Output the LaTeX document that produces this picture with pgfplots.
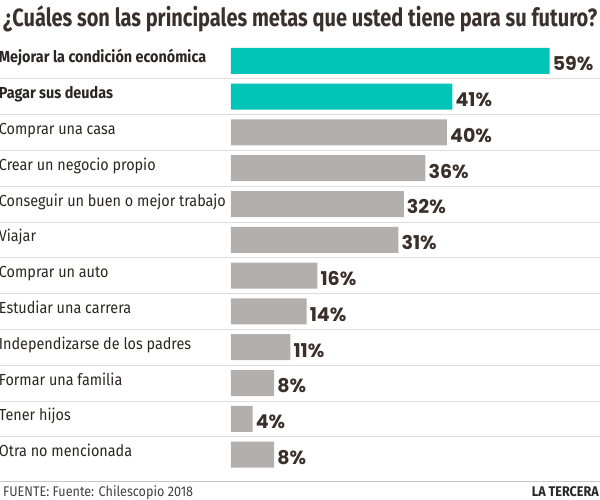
\documentclass[border=0pt]{standalone}
\usepackage{pgfplots}
\pgfplotsset{compat=1.18}
\usepackage{fontspec}
\setmainfont{Fira Sans}
\newfontfamily\labfont{Fira Sans}[FakeStretch=0.9]
\newfontfamily\titlefont{Fira Sans}
\newfontfamily\pctfont{Poppins}
\definecolor{tealbar}{HTML}{00C4B8}
\definecolor{graybar}{HTML}{B3AFAD}
\definecolor{txt}{HTML}{2B2523}
\definecolor{ttl}{HTML}{3A312D}
\definecolor{pct}{HTML}{3B2F2A}
\definecolor{sep}{HTML}{DEDEDE}
\begin{document}
\begin{tikzpicture}
\useasboundingbox (0pt,0pt) rectangle (600pt,499pt);
\foreach \i in {0,...,10} {
  \pgfmathsetmacro{\yy}{499-(60.8+35.8*(\i+0.5))}
  \draw[sep, line width=0.8pt] (0pt,\yy pt) -- (600pt,\yy pt);
}
\draw[black!22, line width=1pt] (0pt,18pt) -- (600pt,18pt);
\node[anchor=base west, inner sep=0pt, text=ttl] at (3pt,472pt)
  {\resizebox{594pt}{\height}{\titlefont\bfseries\fontsize{25}{25}\selectfont ¿Cuáles son las principales metas que usted tiene para su futuro?}};
\node[anchor=base west, inner sep=0pt, text=black!75] at (3pt,3pt)
  {\labfont\fontsize{14}{14}\selectfont FUENTE: Fuente: Chilescopio 2018};
\node[anchor=base east, inner sep=0pt, text=black!85] at (599pt,2.5pt)
  {\labfont\bfseries\fontsize{14}{14}\selectfont LA TERCERA};
\begin{axis}[
  at={(231pt,456.1pt)}, anchor=north west,
  scale only axis, width=367.2pt, height=429.6pt,
  xmin=0, xmax=68, ymin=-0.5, ymax=11.5,
  y dir=reverse,
  xbar, bar width=26pt,
  axis line style={draw=none},
  tick style={draw=none},
  xtick=\empty,
  ytick={0,...,11},
  yticklabels={\bfseries Mejorar la condición económica, \bfseries Pagar sus deudas, Comprar una casa, Crear un negocio propio, Conseguir un buen o mejor trabajo, Viajar, Comprar un auto, Estudiar una carrera, Independizarse de los padres, Formar una familia, Tener hijos, Otra no mencionada},
  yticklabel style={anchor=base west, xshift=-228pt, yshift=-2pt, inner sep=0pt, font=\labfont\fontsize{16}{16}\selectfont, text=txt},
  /pgf/number format/assume math mode=true,
  nodes near coords={\pgfmathprintnumber{\pgfplotspointmeta}\%},
  nodes near coords style={anchor=west, inner sep=0pt, xshift=3pt, yshift=-3pt, font=\pctfont\bfseries\fontsize{19}{19}\selectfont, text=pct},
  clip=false,
]
\addplot[draw=none, fill=tealbar, bar shift=0pt] coordinates {(59,0) (41,1)};
\addplot[draw=none, fill=graybar, bar shift=0pt] coordinates {(40,2) (36,3) (32,4) (31,5) (16,6) (14,7) (11,8) (8,9) (4,10) (8,11)};
\end{axis}
\end{tikzpicture}
\end{document}
